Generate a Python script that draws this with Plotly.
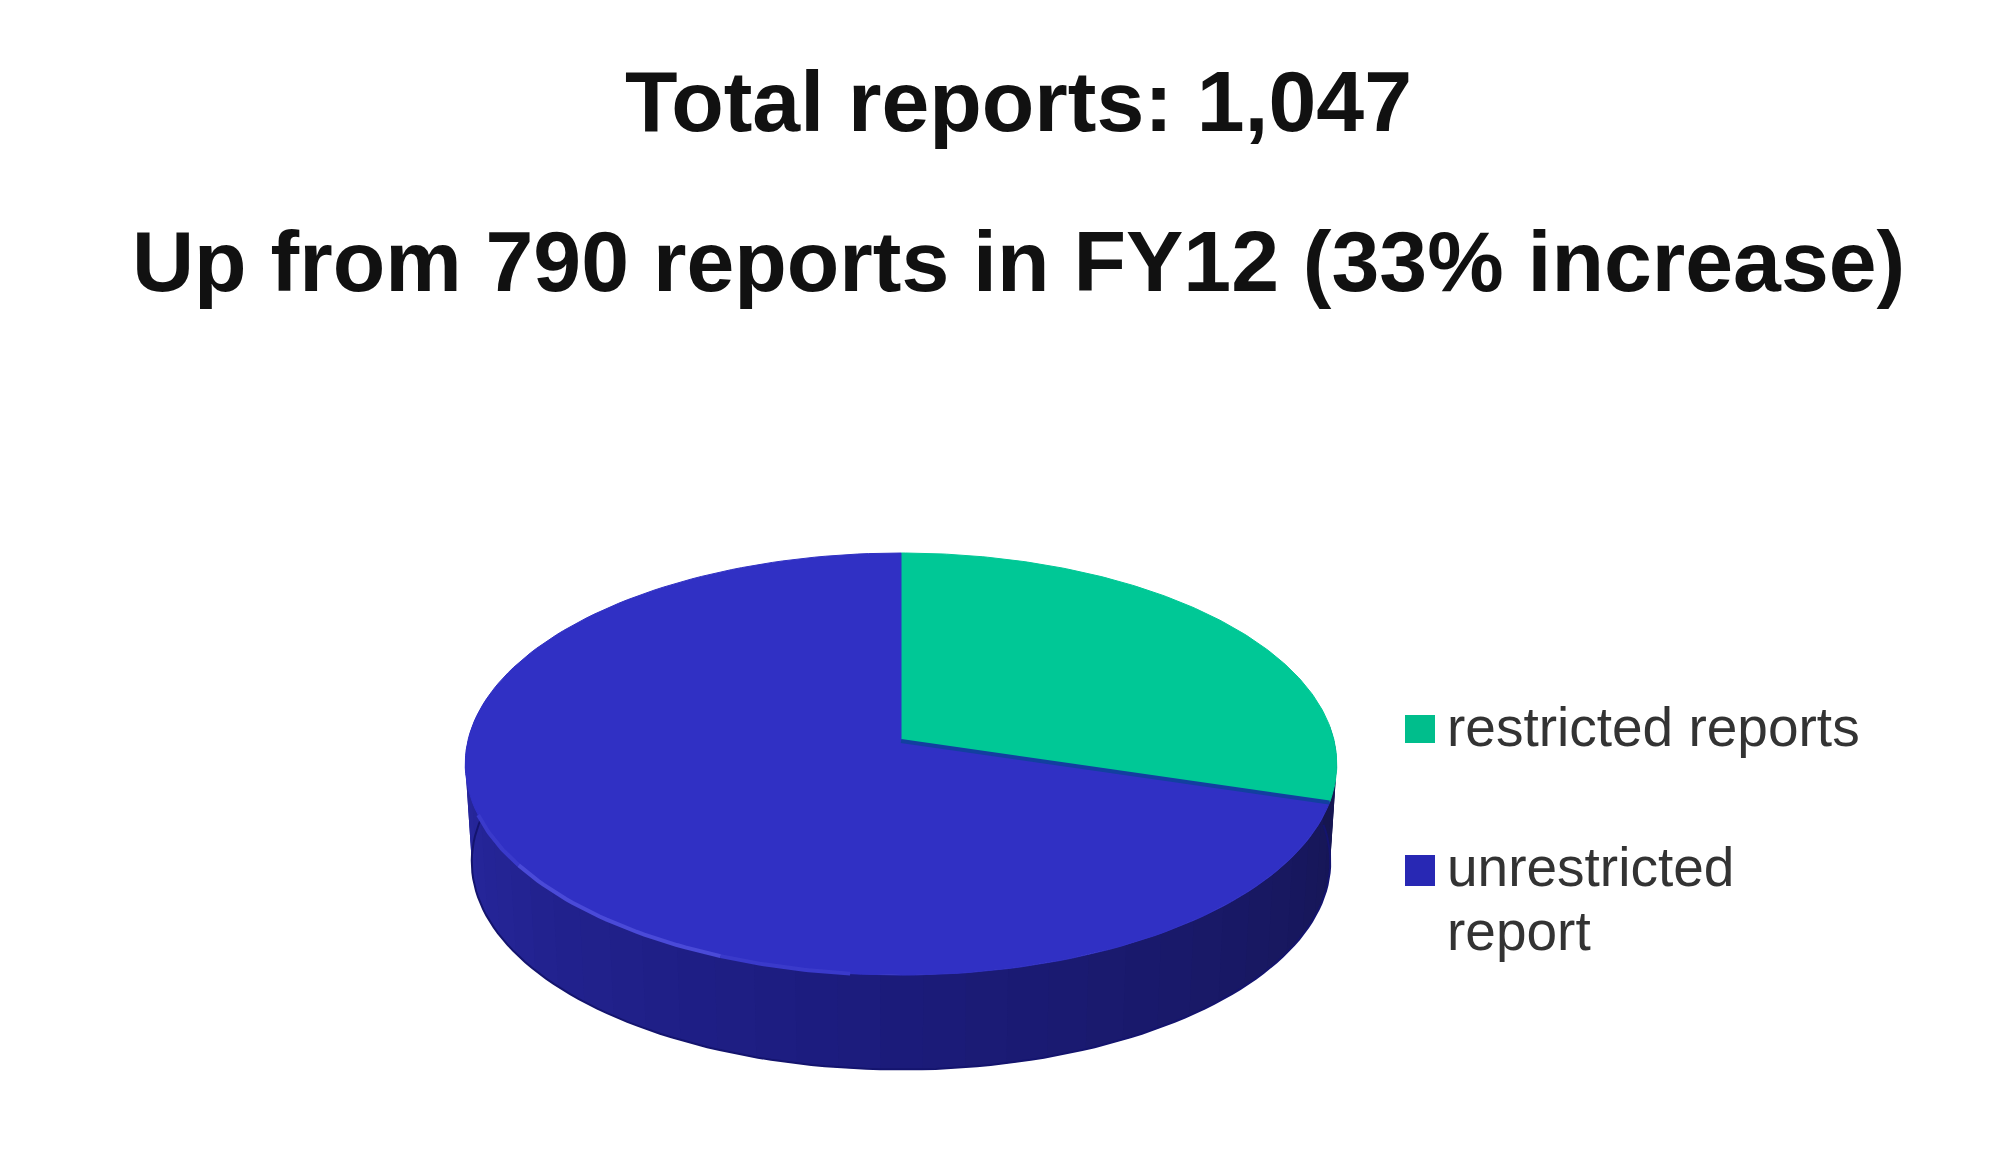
import numpy as np
import plotly.graph_objects as go

# Values
categories = ['restricted reports', 'unrestricted<br>report']
reports = [310, 737]
colors = ['#00c896', '#3030c4']
title_lines = ['Total reports: 1,047', 'Up from 790 reports in FY12 (33% increase)']

# Perspective of the tilted disc, in page pixels
APEX_X, APEX_Y = 901, 741
DIST = 9.16
SCALE_X = 3968
SCALE_Y = 1910
DEPTH = 98
SHRINK = 0.985


def rim(theta_deg, lower=False):
    # theta runs clockwise from the top of the pie
    t = np.radians(theta_deg)
    u, v = np.sin(t), np.cos(t)
    x = SCALE_X * u / (DIST + v)
    y = -SCALE_Y * v / (DIST + v)
    if lower:
        return APEX_X + x * SHRINK, APEX_Y + y * SHRINK + DEPTH
    return APEX_X + x, APEX_Y + y


def wall_color(f):
    # left, middle and right shade of the side wall
    c1, c2, c3 = (42, 42, 165), (28, 28, 125), (22, 22, 80)
    if f < 0.5:
        a, b, g = c1, c2, f * 2
    else:
        a, b, g = c2, c3, f * 2 - 1
    return 'rgb(%d,%d,%d)' % tuple(p + (q - p) * g for p, q in zip(a, b))


angles = np.cumsum([0] + reports) / sum(reports) * 360

fig = go.Figure()

# Side wall, painted left to right, each strip overlapping the next one
wall_stops = np.linspace(284, 86, 40)
for i in range(len(wall_stops) - 1):
    end = wall_stops[min(i + 2, len(wall_stops) - 1)]
    arc = np.linspace(wall_stops[i], end, 6)
    xt, yt = rim(arc)
    xb, yb = rim(arc[::-1], lower=True)
    fig.add_trace(go.Scatter(x=np.r_[xt, xb], y=np.r_[yt, yb], mode='lines', fill='toself',
                             fillcolor=wall_color(i / (len(wall_stops) - 2)), line=dict(width=0),
                             hoverinfo='skip', showlegend=False))

# Darker lower edge of the wall
xs, ys = rim(np.linspace(284, 86, 120), lower=True)
fig.add_trace(go.Scatter(x=xs, y=ys, mode='lines', line=dict(color='#14146e', width=2),
                         hoverinfo='skip', showlegend=False))

# Top face
for i, name in enumerate(categories):
    arc = np.linspace(angles[i], angles[i + 1], 160)
    xs, ys = rim(arc)
    fig.add_trace(go.Scatter(x=np.r_[APEX_X, xs, APEX_X], y=np.r_[APEX_Y, ys, APEX_Y],
                             mode='lines', fill='toself', fillcolor=colors[i],
                             line=dict(color=colors[i], width=1),
                             name=name.replace('<br>', ' '), hoverinfo='name', showlegend=False))

# Dark seam between the two slices
xs, ys = rim(np.array([angles[1]]))
fig.add_trace(go.Scatter(x=[APEX_X, xs[0]], y=[APEX_Y, ys[0]], mode='lines',
                         line=dict(color='#123fa0', width=4), hoverinfo='skip', showlegend=False))

# Light front rim, fading at both ends
for a, b, col in [(186, 202, '#3a3acb'), (202, 236, '#4a4ad8'), (236, 250, '#3a3acb')]:
    xs, ys = rim(np.linspace(a, b, 30))
    fig.add_trace(go.Scatter(x=xs, y=ys, mode='lines', line=dict(color=col, width=4),
                             hoverinfo='skip', showlegend=False))

# Title lines
for y, text in zip([101, 261], title_lines):
    fig.add_annotation(x=1018, y=y, text=text, showarrow=False,
                       font=dict(family='Liberation Sans', size=86, color='#111111', weight='bold'))

# Legend, drawn by hand because plotly caps its swatch size
legend_font = dict(family='Liberation Sans', size=55, color='#333333')
legend_rows = [(715, 743, [727]), (855, 886, [867, 931])]
swatches = ['#00be8c', '#2828b4']
for i, name in enumerate(categories):
    top, bottom, text_ys = legend_rows[i]
    fig.add_shape(type='rect', x0=1405, x1=1435, y0=top, y1=bottom,
                  fillcolor=swatches[i], line=dict(width=0))
    for y, line in zip(text_ys, name.split('<br>')):
        fig.add_annotation(x=1445, y=y, text=line, showarrow=False, xanchor='left', font=legend_font)

fig.update_layout(
    width=2000,
    height=1171,
    margin=dict(l=0, r=0, t=0, b=0),
    paper_bgcolor='white',
    plot_bgcolor='white',
    showlegend=False,
    xaxis=dict(range=[0, 2000], visible=False, fixedrange=True),
    yaxis=dict(range=[1171, 0], visible=False, fixedrange=True),
)

fig.write_html("out.html", post_script="document.body.style.margin = '0';",
               config={'displayModeBar': False})
